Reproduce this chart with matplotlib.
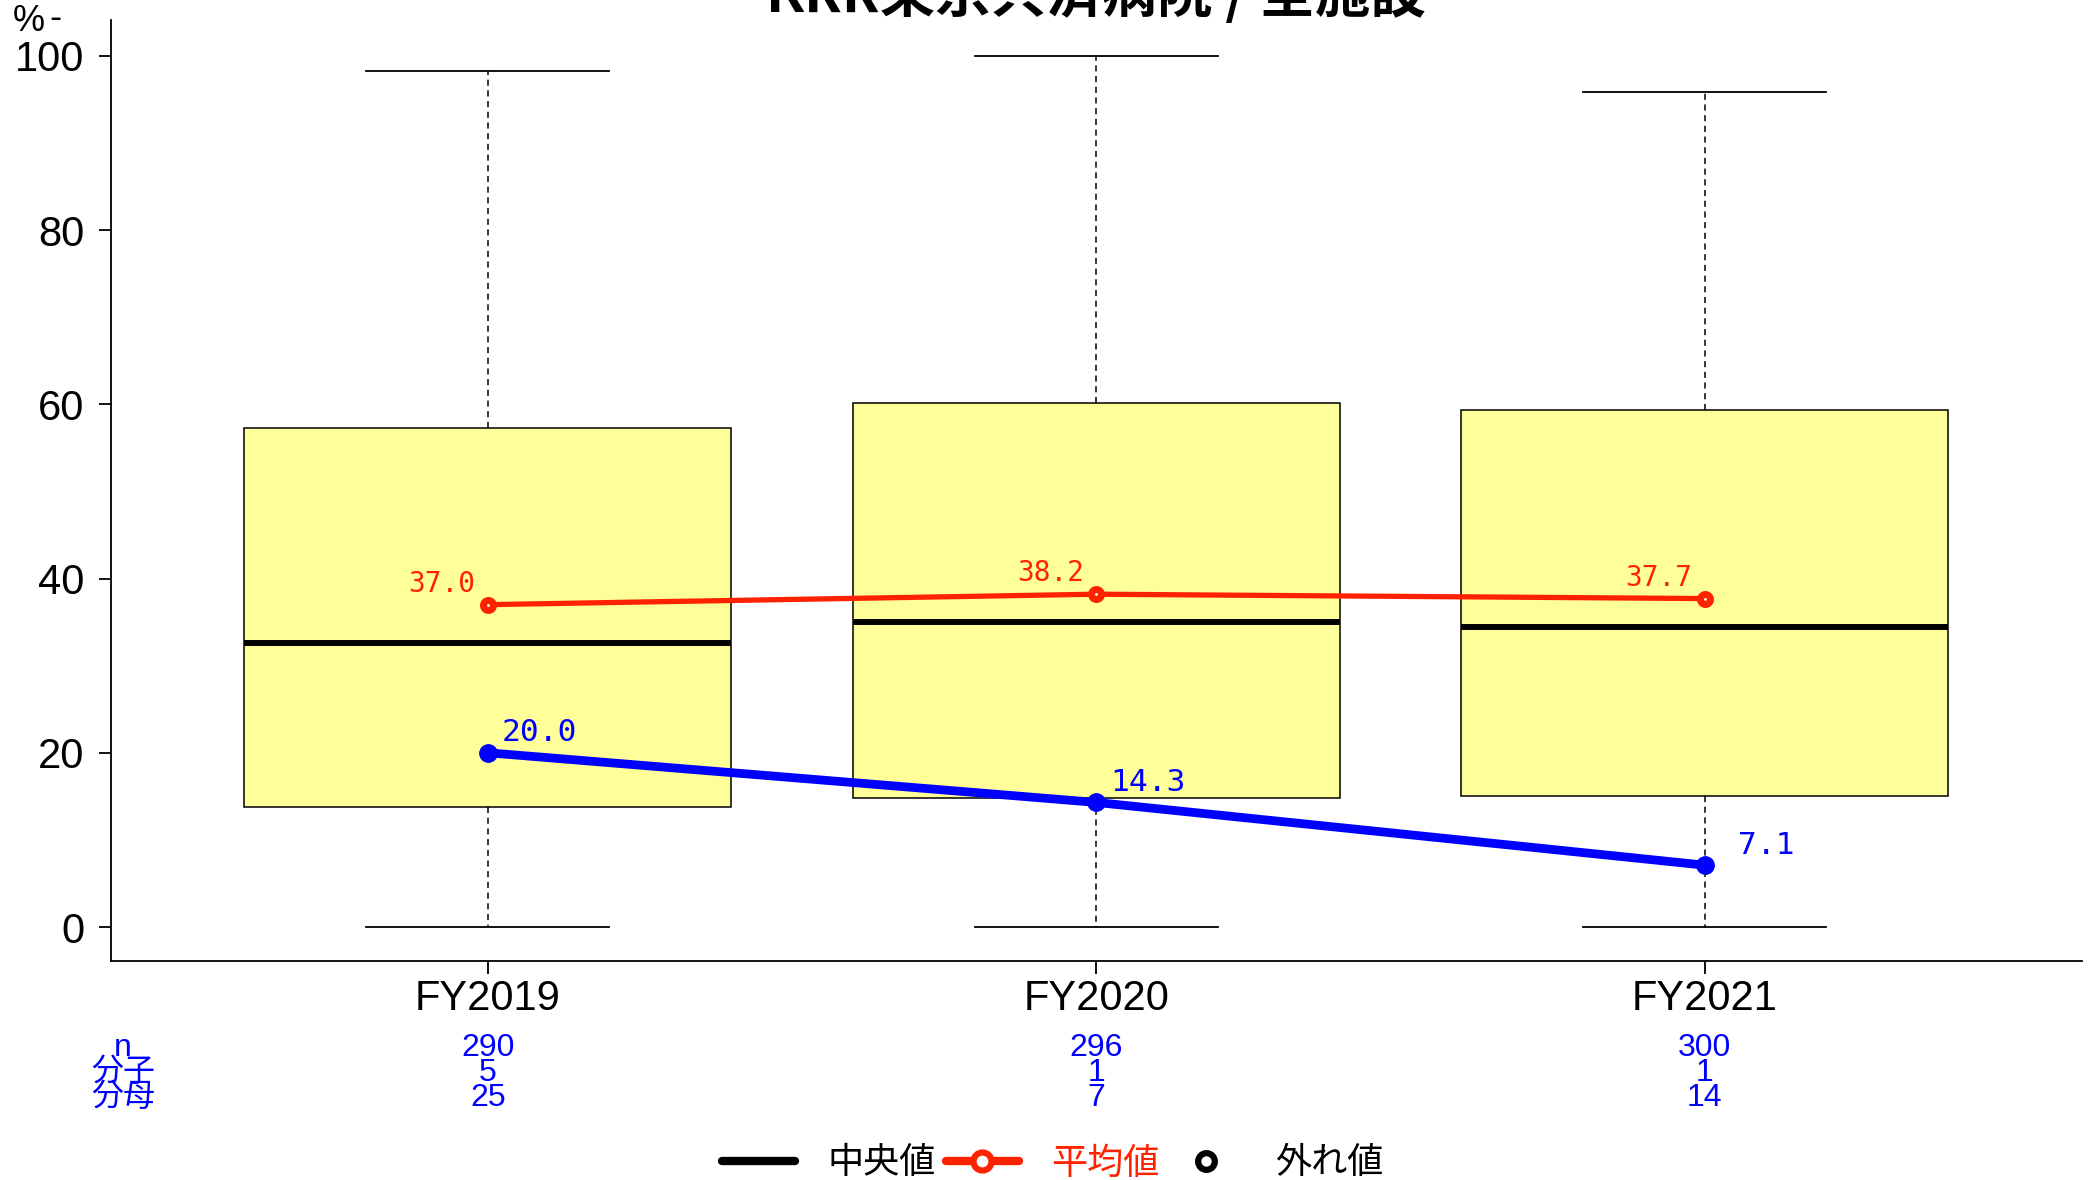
import matplotlib
matplotlib.use('Agg')
import matplotlib.pyplot as plt
from matplotlib.lines import Line2D

# データ
years = ['FY2019', 'FY2020', 'FY2021']
box_min = [0.0, 0.0, 0.0]
box_q1 = [13.8, 14.8, 15.0]
box_med = [32.6, 35.0, 34.4]
box_q3 = [57.3, 60.2, 59.3]
box_max = [98.3, 100.0, 95.9]
mean_all = [37.0, 38.2, 37.7]      # 全施設の平均値
hosp_val = [20.0, 14.3, 7.1]       # 当院の値
n_hosp = [290, 296, 300]
bunshi = [5, 1, 1]
bunbo = [25, 7, 14]
title = 'KRR東京共済病院 / 全施設'

RED = '#FF2200'
BLUE = '#0000FF'
SANS = ['Liberation Sans', 'Noto Sans CJK JP']
MONO = ['DejaVu Sans Mono']
CJK = ['Noto Sans CJK JP', 'DejaVu Sans']

plt.rcParams['font.family'] = CJK

fig = plt.figure(figsize=(20.89, 11.80), dpi=100)
ax = fig.add_axes([0.0529, 0.1859, 0.9437, 0.7971])

pos = [1, 2, 3]
stats = []
for i in range(len(years)):
    stats.append({'whislo': box_min[i], 'q1': box_q1[i], 'med': box_med[i],
                  'q3': box_q3[i], 'whishi': box_max[i], 'fliers': [],
                  'label': years[i]})

ax.bxp(stats, positions=pos, widths=0.8, capwidths=0.4, patch_artist=True,
       showfliers=False,
       boxprops=dict(facecolor='#FFFF99', edgecolor='black', linewidth=1.1),
       medianprops=dict(color='black', linewidth=4.3),
       whiskerprops=dict(color='black', linewidth=1.1, linestyle=(0, (4, 3))),
       capprops=dict(color='black', linewidth=1.3))

# 平均値 (赤)
ax.plot(pos, mean_all, color=RED, lw=3.8, marker='o', ms=7.2, mew=5,
        mfc='white', mec=RED, zorder=5)
for x, v in zip(pos, mean_all):
    ax.annotate('%4.1f' % v, (x, v), xytext=(-9, 5), textcoords='offset points',
                ha='right', va='bottom', color=RED, fontsize=20, family=MONO)

# 当院 (青)
ax.plot(pos, hosp_val, color=BLUE, lw=6.3, marker='o', ms=12.5, zorder=6)
for x, v in zip(pos, hosp_val):
    ax.annotate('%4.1f' % v, (x, v), xytext=(10, 4), textcoords='offset points',
                ha='left', va='bottom', color=BLUE, fontsize=22.5, family=MONO)

ax.set_xlim(0.38, 3.62)
ax.set_ylim(-3.86, 104.1)
ax.set_yticks([0, 20, 40, 60, 80, 100])
ax.spines['top'].set_visible(False)
ax.spines['right'].set_visible(False)
ax.spines['left'].set_linewidth(1.3)
ax.spines['bottom'].set_linewidth(1.3)
ax.tick_params(axis='y', length=9, width=1.3, pad=10)
ax.tick_params(axis='x', length=9, width=1.3, pad=4)
for lab in ax.get_xticklabels() + ax.get_yticklabels():
    lab.set_fontsize(30)
    lab.set_family(SANS)

fig.text(0.0062, 0.982, '%', fontsize=26, family=SANS, ha='left', va='center')
fig.text(0.0235, 0.984, '-', fontsize=26, family=SANS, ha='left', va='center')
fig.text(0.5248, 1 - 12 / 1180, title, fontsize=40, fontweight='bold',
         ha='center', va='baseline')

# 下の表
rows = [('n', n_hosp), ('分子', bunshi), ('分母', bunbo)]
row_y = [1048, 1073, 1098]
for (name, vals), yy in zip(rows, row_y):
    yf = 1 - yy / 1180
    fig.text(0.0589, yf, name, color=BLUE, fontsize=23, family=SANS,
             ha='center', va='center')
    for x, v in zip(pos, vals):
        xf = ax.transData.transform((x, 0))[0] / fig.bbox.width
        fig.text(xf, yf, str(v), color=BLUE, fontsize=23, family=SANS,
                 ha='center', va='center')

# 凡例
handles = [
    Line2D([], [], color='black', lw=6, solid_capstyle='round'),
    Line2D([], [], color=RED, lw=6, solid_capstyle='round', marker='o', ms=13,
           mew=4.5, mfc='white', mec=RED),
    Line2D([], [], color='none', marker='o', ms=12, mew=4.5, mfc='white', mec='black'),
]
leg = fig.legend(handles, ['中央値', '平均値', '外れ値'], loc='center',
                 bbox_to_anchor=(0.504, 0.014), ncol=3, frameon=False, fontsize=26,
                 handlelength=2.0, handletextpad=0.9, columnspacing=0.3)
leg.get_texts()[1].set_color(RED)

fig.savefig('out.png', dpi=100)
